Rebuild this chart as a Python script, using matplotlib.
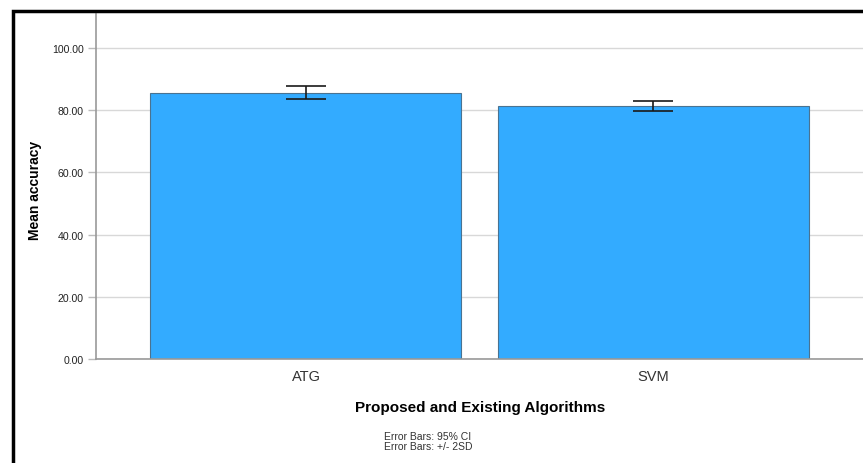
import matplotlib.pyplot as plt
from matplotlib.patches import Rectangle

algorithms = ['ATG', 'SVM']
mean_accuracy = [85.5, 81.3]
ci_low = [83.6, 79.7]
ci_high = [87.6, 83.0]
y_ticks = [0, 20, 40, 60, 80, 100]

plt.rcParams['font.family'] = ['Liberation Sans', 'DejaVu Sans']

fig = plt.figure(figsize=(8.63, 4.64), dpi=100)
ax = fig.add_axes([96 / 863, 104 / 464, 1 - 96 / 863, 345 / 464])

x = range(len(algorithms))
err = [[m - lo for m, lo in zip(mean_accuracy, ci_low)],
       [hi - m for m, hi in zip(mean_accuracy, ci_high)]]
ax.bar(x, mean_accuracy, width=0.896, color='#33abff', edgecolor='#4a7391',
       linewidth=0.8, zorder=2)
ax.errorbar(x, mean_accuracy, yerr=err, fmt='none', ecolor='#1a1a1a',
            elinewidth=1.2, capsize=14.5, capthick=1.2, zorder=3)

ax.set_xlim(-0.605, 1.605)
ax.set_ylim(0, 110.9)
ax.set_yticks(y_ticks)
ax.set_yticklabels([f'{v:.2f}' for v in y_ticks], fontsize=7.6, color='#222222')
ax.set_xticks(list(x))
ax.set_xticklabels(algorithms, fontsize=10.5, color='#333333')
ax.tick_params(axis='x', length=0, pad=7)
ax.tick_params(axis='y', length=6, color='#bbbbbb', width=1, pad=3)
ax.yaxis.grid(True, color='#d8d8d8', linewidth=1, zorder=0)
ax.set_axisbelow(True)

for side in ['top', 'right']:
    ax.spines[side].set_visible(False)
for side in ['left', 'bottom']:
    ax.spines[side].set_color('#999999')
    ax.spines[side].set_linewidth(1.2)

fig.text(35 / 863, 1 - 190 / 464, 'Mean accuracy', rotation=90, fontsize=10,
         fontweight='bold', ha='center', va='center')
fig.text(480 / 863, 1 - 408 / 464, 'Proposed and Existing Algorithms',
         fontsize=11, fontweight='bold', ha='center', va='center')
fig.text(428 / 863, 1 - 442 / 464, 'Error Bars: 95% CI\nError Bars: +/- 2SD',
         fontsize=7.5, ha='center', va='center', color='#333333', linespacing=1.0)

# outer frame, open on the right and bottom edges
fig.patches.append(Rectangle((12.5 / 863, -0.1), 1.2, 1 - 11.5 / 464 + 0.1,
                             transform=fig.transFigure, fill=False,
                             edgecolor='black', linewidth=2.5))

fig.savefig('out.png', dpi=100)
